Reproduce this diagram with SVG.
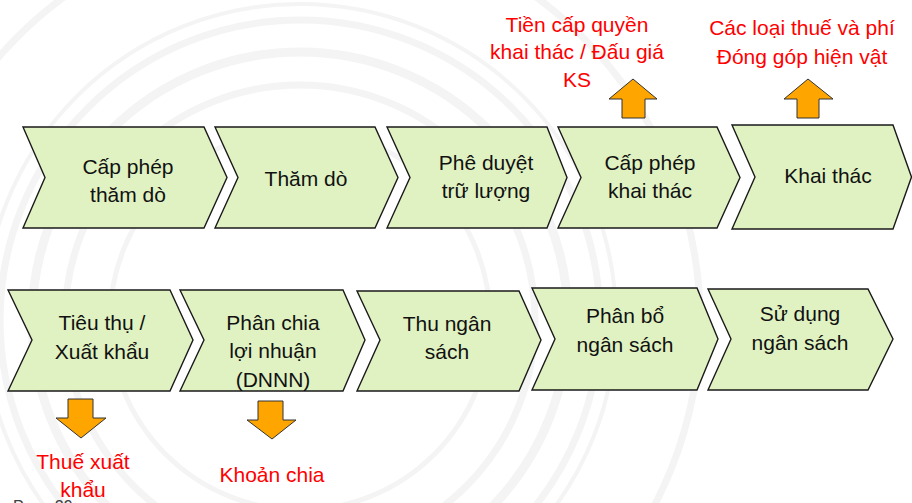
<svg xmlns="http://www.w3.org/2000/svg" width="912" height="503" viewBox="0 0 912 503">
<defs>
<style>
.bg{fill:none;stroke:#f4f4f4}
.chev{fill:#e0f2c2;stroke:#1a1a1a;stroke-width:1.4}
.arr{fill:#ffa500;stroke:#333;stroke-width:1}
.t{font-family:"Liberation Sans",Arial,sans-serif;font-size:21px;fill:#111;text-anchor:middle}
.r{font-family:"Liberation Sans",Arial,sans-serif;font-size:21px;fill:#ff0000;text-anchor:middle}
.pg{font-family:"Liberation Sans",Arial,sans-serif;font-size:16px;fill:#404040}
</style>
</defs>
<rect width="912" height="503" fill="#ffffff"/>
<g id="background">
<circle class="bg" cx="300" cy="320" r="190" stroke-width="5"/>
<circle class="bg" cx="300" cy="320" r="235" stroke-width="7"/>
<circle class="bg" cx="300" cy="320" r="268" stroke-width="9"/>
<circle class="bg" cx="300" cy="320" r="300" stroke-width="7"/>
<circle class="bg" cx="300" cy="320" r="316" stroke-width="4"/>
<circle class="bg" cx="300" cy="320" r="400" stroke-width="7"/>
</g>
<g id="connectors">
<path id="arrow-up-1" class="arr" d="M633,79 L657,99 H645 V118 H622 V99 H609 Z"/>
<path id="arrow-up-2" class="arr" d="M808,79 L833,99 H819 V118 H797 V99 H784 Z"/>
<path id="arrow-down-1" class="arr" d="M68,399 H93 V418 H106 L81,438 L56,418 H68 Z"/>
<path id="arrow-down-2" class="arr" d="M258,401 H283 V420 H296 L272,439 L247,420 H258 Z"/>
</g>
<g id="n1">
<path class="chev" d="M23,127 H204 L227,177.5 L204,228 H23 L45,177.5 Z"/>
<text class="t" x="128" y="174">Cấp phép</text>
<text class="t" x="128" y="202">thăm dò</text>
</g>
<g id="n2">
<path class="chev" d="M215,127 H375 L398,177.5 L375,228 H215 L238,177.5 Z"/>
<text class="t" x="306" y="186">Thăm dò</text>
</g>
<g id="n3">
<path class="chev" d="M387,127 H547 L567,177.5 L547,228 H387 L410,177.5 Z"/>
<text class="t" x="486" y="170">Phê duyệt</text>
<text class="t" x="486" y="198">trữ lượng</text>
</g>
<g id="n4">
<path class="chev" d="M558,127 H717 L740,177.5 L717,228 H558 L581,177.5 Z"/>
<text class="t" x="650" y="170">Cấp phép</text>
<text class="t" x="650" y="198">khai thác</text>
</g>
<g id="n5">
<path class="chev" d="M732,125 H893 L911.5,177 L893,229 H732 L755,177 Z"/>
<text class="t" x="828" y="183">Khai thác</text>
</g>
<g id="n6">
<path class="chev" d="M8,290 H170 L193,340 L170,391 H8 L32,340 Z"/>
<text class="t" x="102" y="330">Tiêu thụ /</text>
<text class="t" x="102" y="359">Xuất khẩu</text>
</g>
<g id="n7">
<path class="chev" d="M180,290 H343 L365,340 L343,391 H180 L204,340 Z"/>
<text class="t" x="273" y="330">Phân chia</text>
<text class="t" x="273" y="358">lợi nhuận</text>
<text class="t" x="273" y="387">(DNNN)</text>
</g>
<g id="n8">
<path class="chev" d="M357,291 H519 L541,340 L519,391 H357 L380,340 Z"/>
<text class="t" x="447" y="331">Thu ngân</text>
<text class="t" x="447" y="359">sách</text>
</g>
<g id="n9">
<path class="chev" d="M532,288 H697 L718,339 L697,390 H532 L555,339 Z"/>
<text class="t" x="625" y="323">Phân bổ</text>
<text class="t" x="625" y="352">ngân sách</text>
</g>
<g id="n10">
<path class="chev" d="M708,289 H868 L893,339 L868,390 H708 L731,339 Z"/>
<text class="t" x="800" y="321">Sử dụng</text>
<text class="t" x="800" y="350">ngân sách</text>
</g>
<g id="label-licence-fee">
<text class="r" x="577" y="32">Tiền cấp quyền</text>
<text class="r" x="577" y="59">khai thác / Đấu giá</text>
<text class="r" x="577" y="87">KS</text>
</g>
<g id="label-taxes">
<text class="r" x="802" y="35">Các loại thuế và phí</text>
<text class="r" x="802" y="64">Đóng góp hiện vật</text>
</g>
<g id="label-export-tax">
<text class="r" x="83" y="469">Thuế xuất</text>
<text class="r" x="83" y="497">khẩu</text>
</g>
<g id="label-dividend">
<text class="r" x="272" y="482">Khoản chia</text>
</g>
<text class="pg" x="13" y="512">Page 29</text>
</svg>
